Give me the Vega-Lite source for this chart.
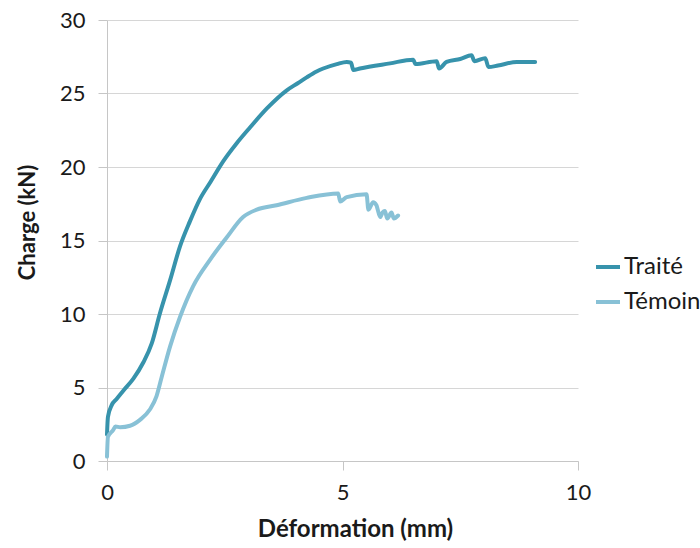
{
  "$schema": "https://vega.github.io/schema/vega-lite/v6.json",
  "width": 471,
  "height": 441,
  "autosize": "none",
  "padding": {"left": 107, "top": 20, "right": 122, "bottom": 87},
  "background": "white",
  "config": {
    "font": "Lato",
    "view": {"stroke": null}
  },
  "data": {
    "values": [
      {"serie": "Traité", "x": 0, "y": 1.8},
      {"serie": "Traité", "x": 0.02, "y": 3.0},
      {"serie": "Traité", "x": 0.1, "y": 3.8},
      {"serie": "Traité", "x": 0.2, "y": 4.2},
      {"serie": "Traité", "x": 0.35, "y": 4.8},
      {"serie": "Traité", "x": 0.56, "y": 5.6},
      {"serie": "Traité", "x": 0.77, "y": 6.7},
      {"serie": "Traité", "x": 0.95, "y": 8.0},
      {"serie": "Traité", "x": 1.12, "y": 10.0},
      {"serie": "Traité", "x": 1.34, "y": 12.3},
      {"serie": "Traité", "x": 1.55, "y": 14.6},
      {"serie": "Traité", "x": 1.76, "y": 16.3},
      {"serie": "Traité", "x": 1.97, "y": 17.8},
      {"serie": "Traité", "x": 2.2, "y": 19.0},
      {"serie": "Traité", "x": 2.47, "y": 20.4},
      {"serie": "Traité", "x": 2.75, "y": 21.6},
      {"serie": "Traité", "x": 3.04, "y": 22.7},
      {"serie": "Traité", "x": 3.4, "y": 24.0},
      {"serie": "Traité", "x": 3.81, "y": 25.2},
      {"serie": "Traité", "x": 4.05, "y": 25.7},
      {"serie": "Traité", "x": 4.24, "y": 26.1},
      {"serie": "Traité", "x": 4.45, "y": 26.5},
      {"serie": "Traité", "x": 4.59, "y": 26.7},
      {"serie": "Traité", "x": 4.88, "y": 27.0},
      {"serie": "Traité", "x": 5.09, "y": 27.15},
      {"serie": "Traité", "x": 5.18, "y": 27.1},
      {"serie": "Traité", "x": 5.23, "y": 26.6},
      {"serie": "Traité", "x": 5.37, "y": 26.7},
      {"serie": "Traité", "x": 6.01, "y": 27.05},
      {"serie": "Traité", "x": 6.5, "y": 27.3},
      {"serie": "Traité", "x": 6.55, "y": 27.0},
      {"serie": "Traité", "x": 7.0, "y": 27.2},
      {"serie": "Traité", "x": 7.05, "y": 26.7},
      {"serie": "Traité", "x": 7.21, "y": 27.15},
      {"serie": "Traité", "x": 7.5, "y": 27.35},
      {"serie": "Traité", "x": 7.74, "y": 27.6},
      {"serie": "Traité", "x": 7.8, "y": 27.2},
      {"serie": "Traité", "x": 8.03, "y": 27.4},
      {"serie": "Traité", "x": 8.1, "y": 26.8},
      {"serie": "Traité", "x": 8.3, "y": 26.9},
      {"serie": "Traité", "x": 8.7, "y": 27.15},
      {"serie": "Traité", "x": 9.09, "y": 27.15},
      {"serie": "Témoin", "x": 0, "y": 0.3},
      {"serie": "Témoin", "x": 0.02, "y": 1.65},
      {"serie": "Témoin", "x": 0.13, "y": 2.1},
      {"serie": "Témoin", "x": 0.18, "y": 2.35},
      {"serie": "Témoin", "x": 0.28, "y": 2.3},
      {"serie": "Témoin", "x": 0.49, "y": 2.4},
      {"serie": "Témoin", "x": 0.7, "y": 2.8},
      {"serie": "Témoin", "x": 0.91, "y": 3.5},
      {"serie": "Témoin", "x": 1.05, "y": 4.4},
      {"serie": "Témoin", "x": 1.16, "y": 5.7},
      {"serie": "Témoin", "x": 1.34, "y": 7.8},
      {"serie": "Témoin", "x": 1.55, "y": 9.8},
      {"serie": "Témoin", "x": 1.83, "y": 11.9},
      {"serie": "Témoin", "x": 2.19, "y": 13.7},
      {"serie": "Témoin", "x": 2.54, "y": 15.2},
      {"serie": "Témoin", "x": 2.89, "y": 16.6},
      {"serie": "Témoin", "x": 3.18, "y": 17.1},
      {"serie": "Témoin", "x": 3.6, "y": 17.4},
      {"serie": "Témoin", "x": 4.24, "y": 17.9},
      {"serie": "Témoin", "x": 4.91, "y": 18.2},
      {"serie": "Témoin", "x": 4.95, "y": 17.65},
      {"serie": "Témoin", "x": 5.09, "y": 17.95},
      {"serie": "Témoin", "x": 5.51, "y": 18.15},
      {"serie": "Témoin", "x": 5.55, "y": 17.1},
      {"serie": "Témoin", "x": 5.65, "y": 17.6},
      {"serie": "Témoin", "x": 5.72, "y": 17.4},
      {"serie": "Témoin", "x": 5.8, "y": 16.6},
      {"serie": "Témoin", "x": 5.85, "y": 16.9},
      {"serie": "Témoin", "x": 5.9, "y": 17.0},
      {"serie": "Témoin", "x": 5.95, "y": 16.5},
      {"serie": "Témoin", "x": 6.04, "y": 16.9},
      {"serie": "Témoin", "x": 6.09, "y": 16.5},
      {"serie": "Témoin", "x": 6.18, "y": 16.7}
    ]
  },
  "mark": {"type": "line", "strokeWidth": 4, "strokeJoin": "round", "strokeCap": "round", "interpolate": "monotone"},
  "encoding": {
    "x": {
      "field": "x", "type": "quantitative",
      "scale": {"domain": [0, 10], "nice": false, "zero": true},
      "axis": {
        "title": "Déformation (mm)",
        "values": [0, 5, 10],
        "grid": false,
        "domainColor": "#c6c6c6",
        "tickColor": "#c6c6c6",
        "tickSize": 9,
        "labelFlush": false,
        "labelFontSize": 22,
        "labelColor": "#1a1a1a",
        "labelPadding": 12,
        "titleFontSize": 24,
        "titleFontWeight": "bold",
        "titleColor": "#1a1a1a",
        "titlePadding": 14,
        "titleX": 248
      }
    },
    "y": {
      "field": "y", "type": "quantitative",
      "scale": {"domain": [0, 30], "nice": false},
      "axis": {
        "title": "Charge (kN)",
        "values": [0, 5, 10, 15, 20, 25, 30],
        "grid": true,
        "gridColor": "#d6d6d6",
        "gridWidth": 1,
        "domainColor": "#c6c6c6",
        "tickColor": "#c6c6c6",
        "tickSize": 9,
        "labelFontSize": 22,
        "labelColor": "#1a1a1a",
        "labelPadding": 13,
        "titleFontSize": 22,
        "titleFontWeight": "bold",
        "titleColor": "#1a1a1a",
        "titlePadding": 20,
        "titleY": 202
      }
    },
    "color": {
      "field": "serie", "type": "nominal",
      "scale": {"domain": ["Traité", "Témoin"], "range": ["#3793ac", "#88c1d6"]},
      "legend": {
        "title": null,
        "orient": "none",
        "legendX": 487,
        "legendY": 233,
        "symbolType": "stroke",
        "symbolSize": 576,
        "symbolStrokeWidth": 4,
        "labelFontSize": 24,
        "labelColor": "#1a1a1a",
        "labelOffset": 2,
        "rowPadding": 9
      }
    }
  }
}
